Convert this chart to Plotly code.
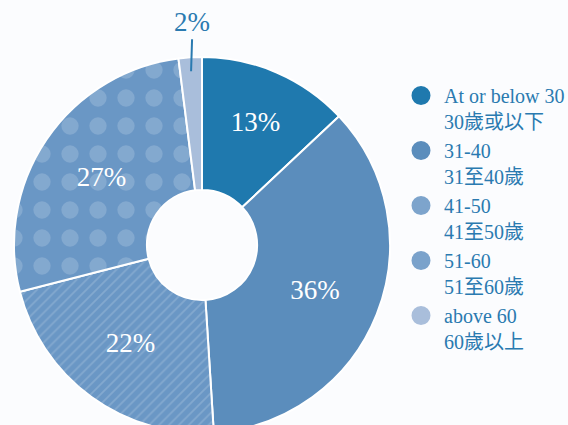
import math
import plotly.graph_objects as go

# ---- data ----
labels_en = ["At or below 30", "31-40", "41-50", "51-60", "above 60"]
labels_zh = ["30歲或以下", "31至40歲", "41至50歲", "51至60歲", "60歲以上"]
values = [13, 36, 22, 27, 2]

# ---- styles ----
colors = ["#1f79ae", "#5b8dbc", "#6a97c5", "#6a97c5", "#a9bedb"]
legend_colors = ["#1f79ae", "#5b8dbc", "#7da4cc", "#7aa2cb", "#a9bedb"]
patterns = ["", "", "/", ".", ""]
pat_size = [8, 8, 7, 28, 8]
pat_sol = [0.2, 0.2, 0.24, 0.3, 0.2]
text_blue = "#2a7ab0"
bg = "#fbfcfe"
serif = "Liberation Serif, Noto Sans CJK TC, serif"

W, H = 568, 440
ml, mt, D = 14, 57, 376

fig = go.Figure()
fig.add_trace(go.Pie(
    values=values,
    labels=labels_en,
    sort=False,
    direction="clockwise",
    rotation=0,
    hole=0.293,
    marker=dict(
        colors=colors,
        line=dict(color="white", width=2),
        pattern=dict(shape=patterns, size=pat_size, solidity=pat_sol,
                     fgcolor="white", bgcolor=colors, fgopacity=0.17,
                     fillmode="replace"),
    ),
    texttemplate=["%{value}%"] * (len(values) - 1) + [""],
    textposition="inside",
    insidetextorientation="horizontal",
    insidetextfont=dict(family=serif, size=27, color="white"),
    showlegend=False,
    hoverinfo="label+percent",
))

for en, zh, c in zip(labels_en, labels_zh, legend_colors):
    fig.add_trace(go.Scatter(
        x=[None], y=[None], mode="markers",
        name=f"{en}<br>{zh}",
        marker=dict(symbol="circle", size=16, color=c, line=dict(color=c, width=3)),
        showlegend=True,
    ))

# leader label for the small last slice
cum = sum(values[:-1]) + values[-1] / 2
ang = 2 * math.pi * cum / sum(values)
r_tip = 0.463
tip_x = 0.5 + r_tip * math.sin(ang)
tip_y = 0.5 + r_tip * math.cos(ang)
fig.add_annotation(
    x=tip_x, y=tip_y, xref="paper", yref="paper",
    text=f"{values[-1]}%", showarrow=True, arrowhead=0, arrowwidth=2,
    arrowcolor=text_blue, ax=1, ay=-32, standoff=0, yanchor="bottom",
    font=dict(family=serif, size=27, color=text_blue),
)

fig.update_layout(
    width=W, height=H,
    margin=dict(l=ml, r=W - ml - D, t=mt, b=H - mt - D, pad=0),
    paper_bgcolor=bg, plot_bgcolor=bg,
    xaxis=dict(visible=False), yaxis=dict(visible=False),
    legend=dict(
        xref="container", yref="container",
        x=398 / W, y=1 - 76 / H, xanchor="left", yanchor="top",
        font=dict(family=serif, size=20, color=text_blue),
        valign="top", itemsizing="trace", tracegroupgap=0,
        itemwidth=36, maxheight=430,
        bgcolor="rgba(0,0,0,0)",
    ),
)

fig.write_html("out.html", post_script="document.body.style.overflow='hidden';document.body.style.margin='0';")
